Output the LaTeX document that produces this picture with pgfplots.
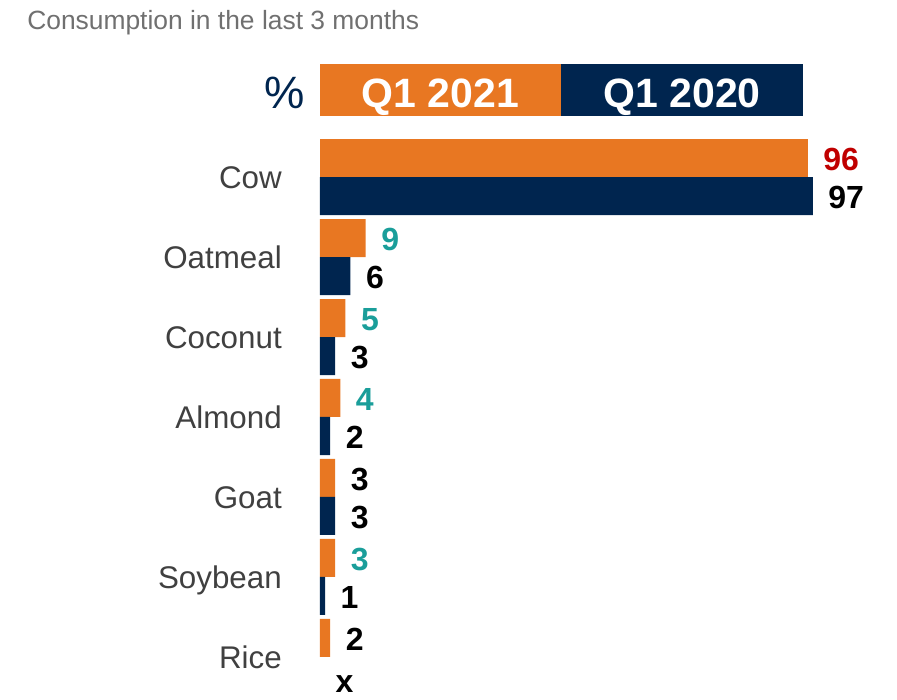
\documentclass[border=0pt]{standalone}
\usepackage{pgfplots}
\pgfplotsset{compat=1.18}
\usepackage{fontspec}
\setmainfont{Liberation Sans}
\definecolor{cOrange}{HTML}{E87722}
\definecolor{cNavy}{HTML}{00254F}
\definecolor{cTeal}{HTML}{1A9E9A}
\definecolor{cRed}{HTML}{C00000}
\definecolor{cGray}{HTML}{404040}
\definecolor{cTitle}{HTML}{707070}
\begin{document}
\begin{tikzpicture}
\path[use as bounding box] (0,0) rectangle (672.75pt,525pt);
\node[anchor=base west, inner sep=0pt, text=cTitle, font=\fontsize{19.8}{24}\selectfont] at (20.25pt,502.5pt) {Consumption in the last 3 months};
\fill[cOrange] (240pt,438pt) rectangle (420.75pt,477pt);
\fill[cNavy] (420.75pt,438pt) rectangle (602.25pt,477pt);
\node[text=white, inner sep=0pt, text height=22pt, text depth=0pt, font=\bfseries\fontsize{30.75}{36}\selectfont] at (330.4pt,455.5pt) {Q1 2021};
\node[text=white, inner sep=0pt, text height=22pt, text depth=0pt, font=\bfseries\fontsize{30.75}{36}\selectfont] at (511.5pt,455.5pt) {Q1 2020};
\node[text=cNavy, inner sep=0pt, text height=25pt, text depth=0pt, font=\fontsize{34}{40}\selectfont] at (213.75pt,456pt) {\%};
\begin{axis}[
  at={(240pt,2.25pt)}, anchor=south west,
  scale only axis, width=381pt, height=420pt,
  xmin=0, xmax=100, ymin=-0.5, ymax=6.5,
  hide x axis,
  axis y line*=left,
  y axis line style={draw=none},
  ytick={0,...,6},
  yticklabels={Rice,Soybean,Goat,Almond,Coconut,Oatmeal,Cow},
  major tick length=0pt,
  yticklabel style={anchor=east, inner sep=0pt, text=cGray, text height=16.8pt, text depth=0pt, font=\fontsize{23.5}{28}\selectfont, xshift=-28.5pt},
  /pgf/number format/assume math mode=true,
  clip=false,
  xbar, bar width=28.5pt,
  nodes near coords,
  every node near coord/.append style={anchor=west, inner sep=0pt, xshift=11.5pt, text height=17.2pt, text depth=0pt, font=\bfseries\fontsize{24}{28}\selectfont},
]
% Q1 2021 (orange)
\addplot[fill=cOrange, draw=none, bar shift=14.25pt, every node near coord/.append style={text=cRed, yshift=-0.75pt}] coordinates {(96,6)};
\addplot[fill=cOrange, draw=none, bar shift=14.25pt, every node near coord/.append style={text=cTeal, yshift=-0.75pt}] coordinates {(9,5) (5,4) (4,3) (3,1)};
\addplot[fill=cOrange, draw=none, bar shift=14.25pt, every node near coord/.append style={text=black, yshift=-0.75pt}] coordinates {(3,2) (2,0)};
% Q1 2020 (navy)
\addplot[fill=cNavy, draw=none, bar shift=-14.25pt, every node near coord/.append style={text=black, yshift=-0.75pt}] coordinates {(97,6) (6,5) (3,4) (2,3) (3,2) (1,1)};
\addplot[fill=none, draw=none, bar shift=-14.25pt, nodes near coords={x}, every node near coord/.append style={text=black, yshift=-4pt}] coordinates {(0,0)};
\end{axis}
\end{tikzpicture}
\end{document}
